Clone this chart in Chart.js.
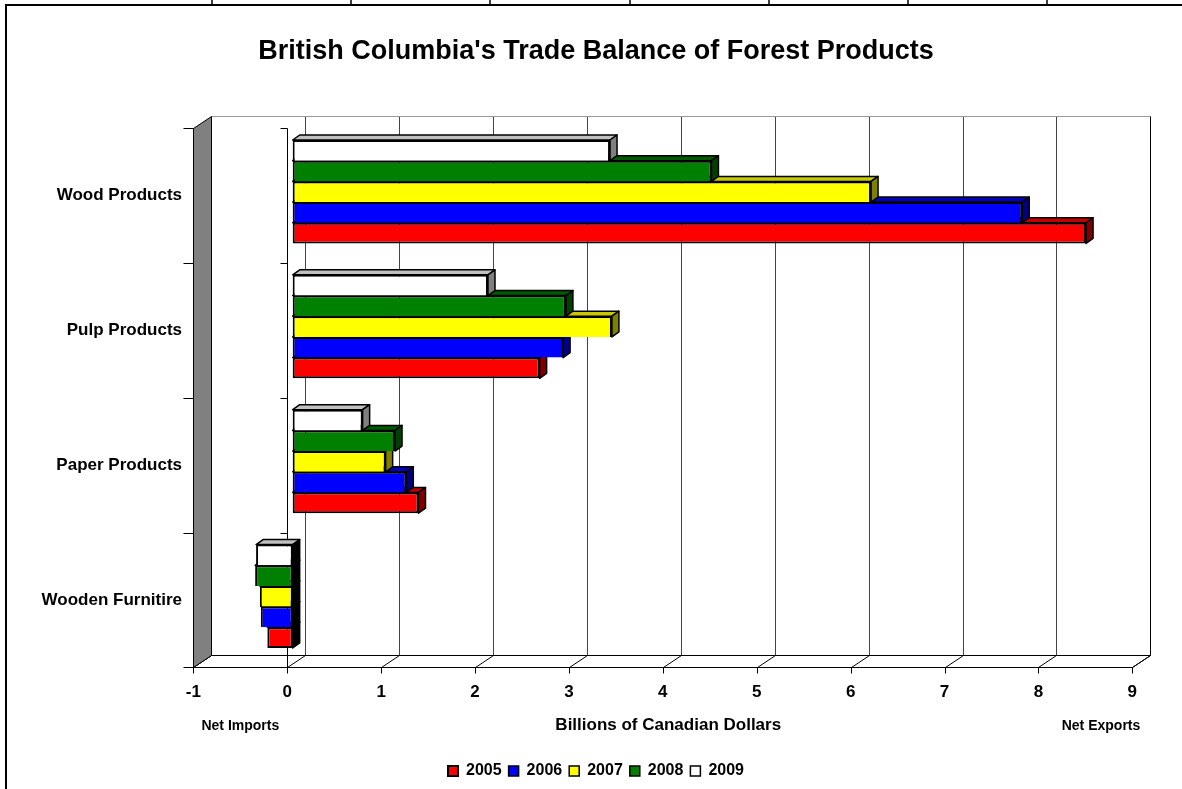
<!DOCTYPE html>
<html>
<head>
<meta charset="utf-8">
<title>British Columbia's Trade Balance of Forest Products</title>
<script src="https://cdn.jsdelivr.net/npm/chart.js@4.4.1/dist/chart.umd.min.js"></script>
<style>
  html, body { margin: 0; padding: 0; background: #fff; }
</style>
</head>
<body>
<canvas id="myChart" width="1182" height="789"></canvas>
<script>
// categories, top to bottom
const categories = ["Wood Products", "Pulp Products", "Paper Products", "Wooden Furnitire"];
const years = ["2005", "2006", "2007", "2008", "2009"];

// billions of Canadian dollars (negative = net imports)
const values2005 = [8.45, 2.63, 1.34, -0.27];
const values2006 = [7.77, 2.88, 1.21, -0.34];
const values2007 = [6.16, 3.40, 0.99, -0.35];
const values2008 = [4.46, 2.91, 1.09, -0.40];
const values2009 = [3.38, 2.08, 0.745, -0.39];

const xTickMin = -1;
const xTickMax = 9;

// front / top / side colours per year
const frontColors = ["#ff0000", "#0000ff", "#ffff00", "#008000", "#ffffff"];
const topColors = ["#c00000", "#0000c0", "#c8c800", "#005a00", "#c0c0c0"];
const sideColors = ["#800000", "#000080", "#808000", "#004000", "#808080"];

// offsets of the fake 3d room, relative to the bar plane
const FRONT = { dx: -5.4, dy: 3.75 };
const BACK = { dx: 12.6, dy: -8.75 };
const BAR_DEPTH = { dx: 7, dy: 5 };

const FONT = "'Liberation Sans', Arial, sans-serif";
Chart.defaults.font.family = FONT;
Chart.defaults.color = "#000";

function crisp(p) {
  return Math.round(p) + 0.5;
}

function line(ctx, x1, y1, x2, y2) {
  ctx.beginPath();
  ctx.moveTo(x1, y1);
  ctx.lineTo(x2, y2);
  ctx.stroke();
}

function poly(ctx, pts, fill, stroke) {
  ctx.beginPath();
  pts.forEach((p, i) => (i ? ctx.lineTo(p[0], p[1]) : ctx.moveTo(p[0], p[1])));
  ctx.closePath();
  ctx.fillStyle = fill;
  ctx.fill();
  ctx.strokeStyle = stroke;
  ctx.stroke();
}

// walls, floor and axis lines
const room3d = {
  id: "room3d",
  beforeDatasetsDraw(chart) {
    const { ctx, chartArea: a, scales } = chart;
    const xs = scales.x;
    const ys = scales.y;
    const vals = xs.ticks.map((t) => t.value);
    const fx = (v) => crisp(xs.getPixelForValue(v) + FRONT.dx);
    const bx = (v) => crisp(xs.getPixelForValue(v) + BACK.dx);
    const fTop = crisp(a.top + FRONT.dy);
    const fBot = crisp(a.bottom + FRONT.dy);
    const bTop = crisp(a.top + BACK.dy);
    const bBot = crisp(a.bottom + BACK.dy);

    ctx.save();
    ctx.lineWidth = 1;

    // back wall with gridlines
    ctx.strokeStyle = "#444";
    vals.forEach((v) => line(ctx, bx(v), bTop, bx(v), bBot));
    ctx.strokeStyle = "#999";
    line(ctx, bx(xTickMin), bTop, bx(xTickMax), bTop);
    ctx.strokeStyle = "#000";
    line(ctx, bx(xTickMax), bTop, bx(xTickMax), bBot);

    // floor
    poly(ctx, [[fx(xTickMin), fBot], [bx(xTickMin), bBot], [bx(xTickMax), bBot], [fx(xTickMax), fBot]], "#fff", "#000");
    vals.forEach((v) => line(ctx, fx(v), fBot, bx(v), bBot));

    // left wall
    poly(ctx, [[fx(xTickMin), fTop], [bx(xTickMin), bTop], [bx(xTickMin), bBot], [fx(xTickMin), fBot]], "#808080", "#000");

    // value axis ticks
    vals.forEach((v) => line(ctx, fx(v), fBot, fx(v), fBot + 6));

    // category axis ticks (outer and at zero)
    line(ctx, fx(0), fTop, fx(0), fBot);
    for (let i = 0; i <= categories.length; i++) {
      const yy = crisp(ys.getPixelForValue(i - 0.5) + FRONT.dy);
      line(ctx, fx(xTickMin) - 10, yy, fx(xTickMin), yy);
      line(ctx, fx(0) - 7, yy, fx(0), yy);
    }
    ctx.restore();
  },
  afterDraw(chart) {
    const { ctx, scales } = chart;
    const xs = scales.x;
    ctx.save();
    // labels under the value axis
    ctx.font = "bold 14px " + FONT;
    ctx.fillStyle = "#000";
    ctx.textBaseline = "middle";
    ctx.textAlign = "center";
    ctx.fillText("Net Imports", xs.getPixelForValue(-0.5) + FRONT.dx, 726);
    ctx.textAlign = "right";
    ctx.fillText("Net Exports", xs.getPixelForValue(xTickMax) + FRONT.dx + 8, 726);

    // sheet border and the row of cells above the chart
    ctx.strokeStyle = "#000";
    ctx.lineWidth = 2;
    line(ctx, 5, 5, chart.width, 5);
    line(ctx, 6, 4, 6, chart.height);
    ctx.lineWidth = 1.5;
    [212, 351, 490, 630, 769, 908, 1047].forEach((cx) => line(ctx, cx, 0, cx, 5));
    ctx.restore();
  },
};

// top and side faces of every bar
const bars3d = {
  id: "bars3d",
  beforeDatasetDraw(chart, args) {
    const ctx = chart.ctx;
    const k = years.indexOf(chart.data.datasets[args.index].label);
    ctx.save();
    ctx.lineWidth = 1.5;
    ctx.lineJoin = "round";
    args.meta.data.forEach((el) => {
      const { x, y, base, height } = el.getProps(["x", "y", "base", "height"], true);
      const l = Math.min(x, base);
      const r = Math.max(x, base);
      const t = y - height / 2;
      const b = y + height / 2;
      const { dx, dy } = BAR_DEPTH;
      poly(ctx, [[l, t], [l + dx, t - dy], [r + dx, t - dy], [r, t]], topColors[k], "#000");
      poly(ctx, [[r, t], [r + dx, t - dy], [r + dx, b - dy], [r, b]], x < base ? "#000" : sideColors[k], "#000");
    });
    ctx.restore();
  },
};

const seriesByYear = [values2005, values2006, values2007, values2008, values2009];

// 2009 first so it sits at the top of each group
const datasets = years
  .map((year, i) => ({
    label: year,
    data: seriesByYear[i],
    backgroundColor: frontColors[i],
    borderColor: "#000",
    borderWidth: { top: 2, left: 2, right: 2, bottom: i === 0 ? 2 : 0 },
    borderSkipped: false,
    categoryPercentage: 0.767,
    barPercentage: 1.0,
  }))
  .reverse();

const cfg = {
  type: "bar",
  data: { labels: categories, datasets: datasets },
  options: {
    indexAxis: "y",
    responsive: false,
    animation: false,
    layout: { padding: { left: 10, right: 0, top: 0, bottom: 0 } },
    plugins: {
      title: {
        display: true,
        text: "British Columbia's Trade Balance of Forest Products",
        color: "#000",
        font: { size: 27, weight: "bold" },
        padding: { top: 35.3, bottom: 56.6 },
      },
      legend: {
        display: true,
        position: "bottom",
        labels: {
          boxWidth: 10,
          boxHeight: 10,
          padding: 7,
          color: "#000",
          font: { size: 16, weight: "bold" },
          sort: (a, b) => b.datasetIndex - a.datasetIndex,
        },
      },
      tooltip: { enabled: false },
    },
    scales: {
      x: {
        type: "linear",
        position: "bottom",
        min: xTickMin,
        max: xTickMax,
        grid: { display: false, drawTicks: false },
        border: { display: false },
        ticks: {
          stepSize: 1,
          color: "#000",
          font: { size: 17, weight: "bold" },
          padding: 18,
          labelOffset: FRONT.dx,
        },
        title: {
          display: true,
          text: "Billions of Canadian Dollars",
          color: "#000",
          font: { size: 17, weight: "bold" },
          padding: { top: 0, bottom: 20 },
        },
        afterFit(scale) {
          const lh = scale.chart.legend ? scale.chart.legend.height : 0;
          scale.height = scale.chart.height - 663.7 - lh;
        },
      },
      y: {
        type: "category",
        position: "left",
        grid: { display: false, drawTicks: false },
        border: { display: false },
        ticks: {
          color: "#000",
          font: { size: 17, weight: "bold" },
          padding: 16.8,
          labelOffset: 3.8,
        },
        afterFit(scale) {
          scale.width = 188.8;
        },
      },
      // empty axis that only reserves the right margin
      yRight: {
        type: "linear",
        position: "right",
        grid: { display: false, drawTicks: false },
        border: { display: false },
        ticks: { display: false },
        afterFit(scale) {
          scale.width = 44.3;
        },
      },
    },
  },
  plugins: [room3d, bars3d],
};

new Chart(document.getElementById("myChart"), cfg);
</script>
</body>
</html>
